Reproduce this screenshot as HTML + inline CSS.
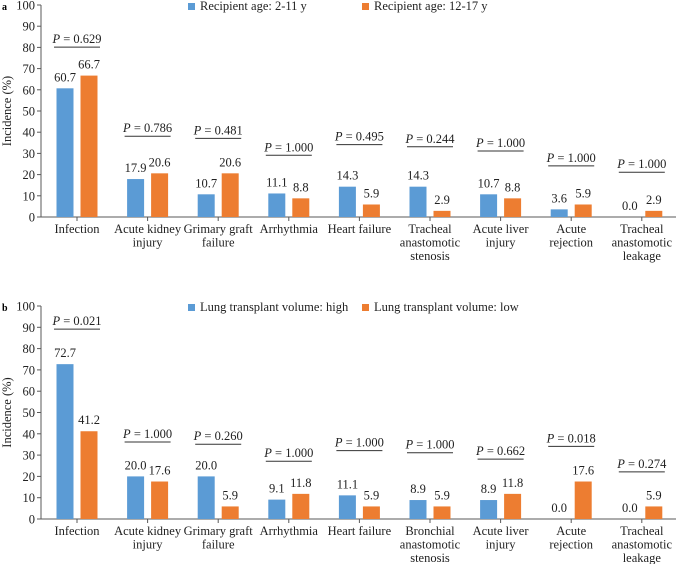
<!DOCTYPE html>
<html><head><meta charset="utf-8">
<style>
html,body{margin:0;padding:0;background:#fff;}
svg{display:block;font-family:"Liberation Serif","Times New Roman",serif;}
</style></head>
<body>
<svg id="chart" width="678" height="564" viewBox="0 0 678 564" xmlns="http://www.w3.org/2000/svg"></svg>
<script>
const categoriesA = [["Infection"],["Acute kidney","injury"],["Grimary graft","failure"],["Arrhythmia"],["Heart failure"],["Tracheal","anastomotic","stenosis"],["Acute liver","injury"],["Acute","rejection"],["Tracheal","anastomotic","leakage"]];
const categoriesB = [["Infection"],["Acute kidney","injury"],["Grimary graft","failure"],["Arrhythmia"],["Heart failure"],["Bronchial","anastomotic","stenosis"],["Acute liver","injury"],["Acute","rejection"],["Tracheal","anastomotic","leakage"]];
const seriesA1 = [60.7,17.9,10.7,11.1,14.3,14.3,10.7,3.6,0.0];
const seriesA2 = [66.7,20.6,20.6,8.8,5.9,2.9,8.8,5.9,2.9];
const seriesB1 = [72.7,20.0,20.0,9.1,11.1,8.9,8.9,0.0,0.0];
const seriesB2 = [41.2,17.6,5.9,11.8,5.9,5.9,11.8,17.6,5.9];
const pValuesA = ["0.629","0.786","0.481","1.000","0.495","0.244","1.000","1.000","1.000"];
const pValuesB = ["0.021","1.000","0.260","1.000","1.000","1.000","0.662","0.018","0.274"];
const pLevelA = [82,40,39,31,36,35,33,26,23];
const pLevelB = [91,38,37,29,34,33,30,36,24];
const yTicks = [0,10,20,30,40,50,60,70,80,90,100];
const legendA = ["Recipient age: 2-11 y","Recipient age: 12-17 y"];
const legendB = ["Lung transplant volume: high","Lung transplant volume: low"];

const NS="http://www.w3.org/2000/svg";
const svg=document.getElementById('chart');
const BLUE="#5b9bd5", ORANGE="#ed7d31";
const FS=12.5;
function mk(tag,attrs,parent,text){const e=document.createElementNS(NS,tag);for(const k in attrs)e.setAttribute(k,attrs[k]);if(text!==undefined)e.textContent=text;(parent||svg).appendChild(e);return e;}

function panel(key,top,zeroY,cats,s1,s2,pv,plev,leg){
  const g=mk('g',{});
  
  
  const x0=41, scale=(zeroY-top)/100;
  const y=v=>zeroY-v*scale;
  const cx=i=>77+70.6*i;
  const lt=mk('text',{x:2,y:top+5,'font-size':10,'font-weight':'bold'},g,key);
  
  
  const ya=mk('line',{x1:x0,y1:top,x2:x0,y2:zeroY,stroke:'#595959','stroke-width':1},g);
  
  
  const xa=mk('line',{x1:x0,y1:zeroY,x2:676,y2:zeroY,stroke:'#595959','stroke-width':1},g);
  
  
  yTicks.forEach(t=>{
    mk('line',{x1:x0-4,y1:y(t),x2:x0,y2:y(t),stroke:'#595959'},g);
    const tt=mk('text',{x:x0-6,y:y(t)+4.5,'text-anchor':'end','font-size':FS,fill:'#222'},g,t);
    
    
  });
  const yt=mk('text',{x:0,y:0,'font-size':FS,'text-anchor':'middle',fill:'#222',transform:`translate(11,${(top+zeroY)/2}) rotate(-90)`},g,'Incidence (%)');
  
  
  cats.forEach((c,i)=>{
    const x=cx(i);
    mk('line',{x1:x,y1:zeroY,x2:x,y2:zeroY+4,stroke:'#595959'},g);
    c.forEach((ln,j)=>{
      const ct=mk('text',{x:x,y:zeroY+16+j*13.5,'text-anchor':'middle','font-size':FS,fill:'#222'},g,ln);
      
      
    });
    [[s1,BLUE,-20.5],[s2,ORANGE,3.5]].forEach(([s,col,off])=>{
      const v=s[i];
      if(v>0){
        const b=mk('rect',{x:x+off,y:y(v),width:17,height:zeroY-y(v),fill:col},g);
        
        
      }
      const vl=mk('text',{x:x+off+8.5,y:y(v)-7,'text-anchor':'middle','font-size':FS,fill:'#222'},g,v.toFixed(1));
      
      
    });
    const py=y(plev[i]);
    const pt=mk('text',{x:x,y:py,'text-anchor':'middle','font-size':FS,fill:'#222'},g);
    
    
    mk('tspan',{'font-style':'italic'},pt,'P');
    mk('tspan',{},pt,' = '+pv[i]);
    mk('line',{x1:x-23,y1:py+4,x2:x+23,y2:py+4,stroke:'#333','stroke-width':1},g);
  });
  [[BLUE,188,leg[0]],[ORANGE,362,leg[1]]].forEach(([col,lx,txt])=>{
    const sq=mk('rect',{x:lx,y:top-2,width:7,height:7,fill:col},g);
    
    
    const lt2=mk('text',{x:lx+12,y:top+5,'font-size':FS,fill:'#222'},g,txt);
    
    
  });
}
panel('a',5,217,categoriesA,seriesA1,seriesA2,pValuesA,pLevelA,legendA);
panel('b',306,519,categoriesB,seriesB1,seriesB2,pValuesB,pLevelB,legendB);
</script>
</body></html>
